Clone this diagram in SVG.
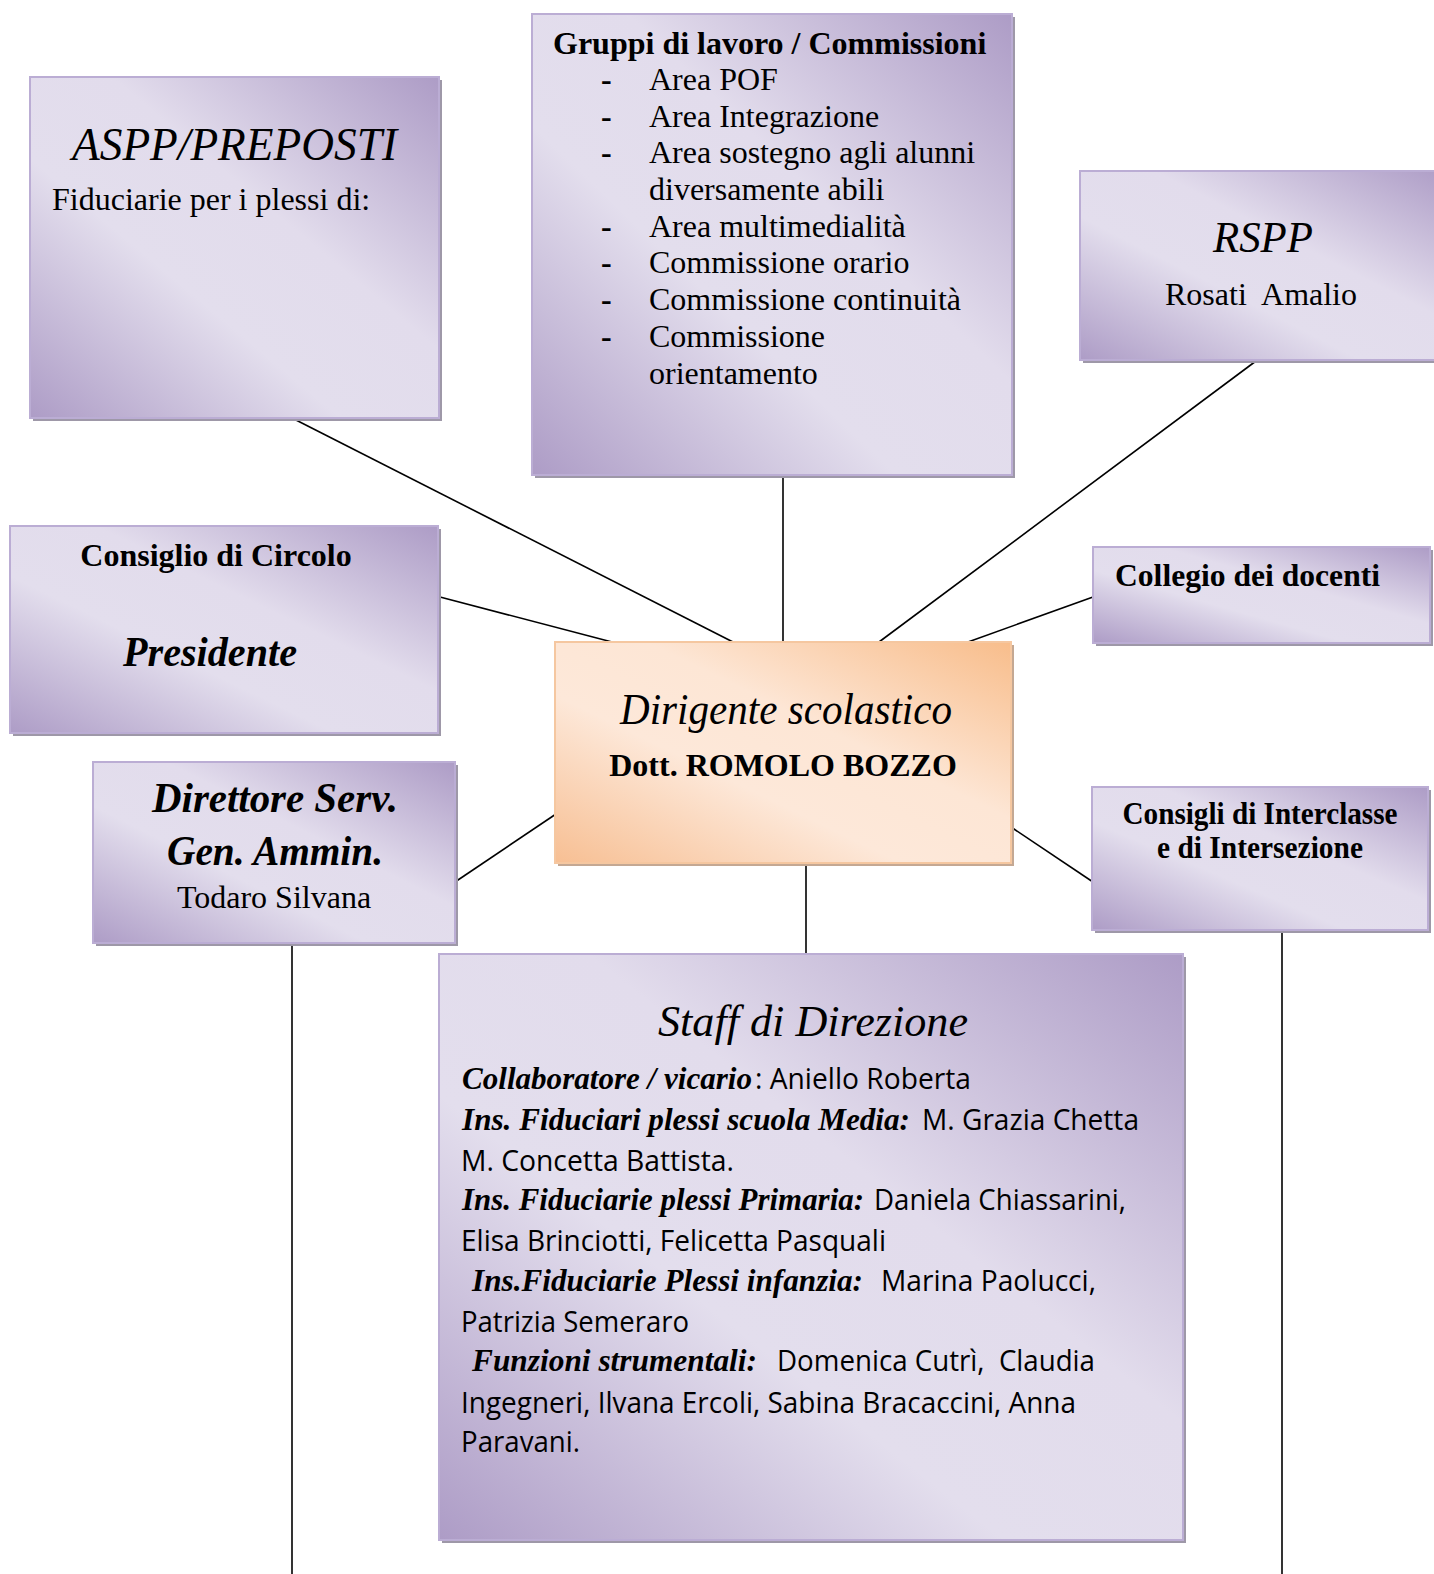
<svg xmlns="http://www.w3.org/2000/svg" width="1434" height="1574" viewBox="0 0 1434 1574">
<defs>
<linearGradient id="gp" x1="1" y1="0" x2="0" y2="1">
<stop offset="0" stop-color="#ad9cc6"/>
<stop offset="0.4" stop-color="#e2dcec"/>
<stop offset="0.62" stop-color="#e3deed"/>
<stop offset="1" stop-color="#ad9cc6"/>
</linearGradient>
<linearGradient id="go" x1="1" y1="0" x2="0" y2="1">
<stop offset="0" stop-color="#f8bd8b"/>
<stop offset="0.4" stop-color="#fde6d5"/>
<stop offset="0.62" stop-color="#fde8d9"/>
<stop offset="1" stop-color="#f7bf93"/>
</linearGradient>
</defs>
<style>
.sh{fill:#9e98a8}
.bx{fill:url(#gp);stroke:#bbadd4;stroke-width:2}
.sho{fill:#c4a893}
.bxo{fill:url(#go);stroke:#f5c7a0;stroke-width:2}
.tr{font-family:"Liberation Serif","Times New Roman",serif;font-size:32px;fill:#000}
.tb{font-family:"Liberation Serif","Times New Roman",serif;font-size:32px;font-weight:bold;fill:#000}
.sc{font-family:"Liberation Serif","Times New Roman",serif;font-style:italic;fill:#000}
.scb{font-family:"Liberation Serif","Times New Roman",serif;font-style:italic;font-weight:bold;fill:#000}
.ca{font-family:"Open Sans","Noto Sans",sans-serif;font-size:29px;fill:#000}
.ln{stroke:#000;stroke-width:1.6;fill:none}
</style>

<g id="connectors">
<line class="ln" x1="292" y1="418" x2="733" y2="642"/>
<line class="ln" x1="783" y1="475" x2="783" y2="642"/>
<line class="ln" x1="1256" y1="361" x2="879" y2="642"/>
<line class="ln" x1="440" y1="597" x2="612" y2="642"/>
<line class="ln" x1="1093" y1="597" x2="968" y2="642"/>
<line class="ln" x1="455" y1="882" x2="556" y2="814"/>
<line class="ln" x1="1011" y1="827" x2="1093" y2="882"/>
<line class="ln" x1="806" y1="863" x2="806" y2="954"/>
<line class="ln" x1="292" y1="943" x2="292" y2="1574"/>
<line class="ln" x1="1282" y1="930" x2="1282" y2="1574"/>
</g>

<g id="aspp">
<rect class="sh" x="33" y="80" width="409" height="341"/>
<rect class="bx" x="30" y="77" width="409" height="341"/>
<text class="sc" x="72" y="160" font-size="46" textLength="325" lengthAdjust="spacingAndGlyphs">ASPP/PREPOSTI</text>
<text class="tr" x="52" y="210">Fiduciarie per i plessi di:</text>
</g>

<g id="gruppi">
<rect class="sh" x="535" y="17" width="480" height="461"/>
<rect class="bx" x="532" y="14" width="480" height="461"/>
<text class="tb" x="553" y="54">Gruppi di lavoro / Commissioni</text>
<g class="tr">
<text class="tb" x="601" y="90">-</text><text x="649" y="90">Area POF</text>
<text class="tb" x="601" y="127">-</text><text x="649" y="127">Area Integrazione</text>
<text class="tb" x="601" y="163">-</text><text x="649" y="163">Area sostegno agli alunni</text>
<text x="649" y="200">diversamente abili</text>
<text class="tb" x="601" y="237">-</text><text x="649" y="237">Area multimedialità</text>
<text class="tb" x="601" y="273">-</text><text x="649" y="273">Commissione orario</text>
<text class="tb" x="601" y="310">-</text><text x="649" y="310">Commissione continuità</text>
<text class="tb" x="601" y="347">-</text><text x="649" y="347">Commissione</text>
<text x="649" y="384">orientamento</text>
</g>
</g>

<g id="rspp">
<rect class="sh" x="1083" y="174" width="370" height="189"/>
<rect class="bx" x="1080" y="171" width="370" height="189"/>
<text class="sc" x="1263" y="252" font-size="44" text-anchor="middle" textLength="100" lengthAdjust="spacingAndGlyphs">RSPP</text>
<text class="tr" x="1261" y="305" text-anchor="middle" xml:space="preserve">Rosati  Amalio</text>
</g>

<g id="consiglio">
<rect class="sh" x="13" y="529" width="428" height="207"/>
<rect class="bx" x="10" y="526" width="428" height="207"/>
<text class="tb" x="216" y="566" text-anchor="middle">Consiglio di Circolo</text>
<text class="scb" x="210" y="666" font-size="42" text-anchor="middle" textLength="174" lengthAdjust="spacingAndGlyphs">Presidente</text>
</g>

<g id="collegio">
<rect class="sh" x="1096" y="550" width="337" height="96"/>
<rect class="bx" x="1093" y="547" width="337" height="96"/>
<text class="tb" x="1115" y="586" textLength="265" lengthAdjust="spacingAndGlyphs">Collegio dei docenti</text>
</g>

<g id="dirigente">
<rect class="sho" x="558" y="645" width="456" height="221"/>
<rect class="bxo" x="555" y="642" width="456" height="221"/>
<text class="sc" x="786" y="724" font-size="44" text-anchor="middle" textLength="332" lengthAdjust="spacingAndGlyphs">Dirigente scolastico</text>
<text class="tb" x="783" y="776" text-anchor="middle">Dott. ROMOLO BOZZO</text>
</g>

<g id="direttore">
<rect class="sh" x="96" y="765" width="362" height="181"/>
<rect class="bx" x="93" y="762" width="362" height="181"/>
<text class="scb" x="275" y="812" font-size="42" text-anchor="middle" textLength="246" lengthAdjust="spacingAndGlyphs">Direttore Serv.</text>
<text class="scb" x="275" y="865" font-size="42" text-anchor="middle" textLength="216" lengthAdjust="spacingAndGlyphs">Gen. Ammin.</text>
<text class="tr" x="274" y="908" text-anchor="middle">Todaro Silvana</text>
</g>

<g id="interclasse">
<rect class="sh" x="1095" y="790" width="336" height="143"/>
<rect class="bx" x="1092" y="787" width="336" height="143"/>
<text class="tb" x="1260" y="824" text-anchor="middle" font-size="29" textLength="275" lengthAdjust="spacingAndGlyphs">Consigli di Interclasse</text>
<text class="tb" x="1260" y="858" text-anchor="middle" font-size="29" textLength="206" lengthAdjust="spacingAndGlyphs">e di Intersezione</text>
</g>

<g id="staff">
<rect class="sh" x="442" y="957" width="744" height="586"/>
<rect class="bx" x="439" y="954" width="744" height="586"/>
<text class="sc" x="813" y="1036" font-size="44" text-anchor="middle" textLength="310" lengthAdjust="spacingAndGlyphs">Staff di Direzione</text>
<text y="1089"><tspan class="scb" x="462" font-size="31" textLength="290" lengthAdjust="spacingAndGlyphs">Collaboratore / vicario</tspan><tspan class="ca" x="755" textLength="216" lengthAdjust="spacingAndGlyphs">: Aniello Roberta</tspan></text>
<text y="1130"><tspan class="scb" x="462" font-size="31" textLength="448" lengthAdjust="spacingAndGlyphs">Ins. Fiduciari plessi scuola Media:</tspan><tspan class="ca" x="922" textLength="217" lengthAdjust="spacingAndGlyphs">M. Grazia Chetta</tspan></text>
<text class="ca" x="461" y="1171" textLength="273" lengthAdjust="spacingAndGlyphs">M. Concetta Battista.</text>
<text y="1210"><tspan class="scb" x="462" font-size="31" textLength="402" lengthAdjust="spacingAndGlyphs">Ins. Fiduciarie plessi Primaria:</tspan><tspan class="ca" x="874" textLength="252" lengthAdjust="spacingAndGlyphs">Daniela Chiassarini,</tspan></text>
<text class="ca" x="461" y="1251" textLength="425" lengthAdjust="spacingAndGlyphs">Elisa Brinciotti, Felicetta Pasquali</text>
<text y="1291"><tspan class="scb" x="472" font-size="31" textLength="391" lengthAdjust="spacingAndGlyphs">Ins.Fiduciarie Plessi infanzia:</tspan><tspan class="ca" x="881" textLength="215" lengthAdjust="spacingAndGlyphs">Marina Paolucci,</tspan></text>
<text class="ca" x="461" y="1332" textLength="228" lengthAdjust="spacingAndGlyphs">Patrizia Semeraro</text>
<text y="1371"><tspan class="scb" x="472" font-size="31" textLength="285" lengthAdjust="spacingAndGlyphs">Funzioni strumentali:</tspan><tspan class="ca" x="777" textLength="318" lengthAdjust="spacingAndGlyphs" xml:space="preserve">Domenica Cutrì,  Claudia</tspan></text>
<text class="ca" x="461" y="1413" textLength="615" lengthAdjust="spacingAndGlyphs">Ingegneri, Ilvana Ercoli, Sabina Bracaccini, Anna</text>
<text class="ca" x="461" y="1452" textLength="119" lengthAdjust="spacingAndGlyphs">Paravani.</text>
</g>
</svg>
